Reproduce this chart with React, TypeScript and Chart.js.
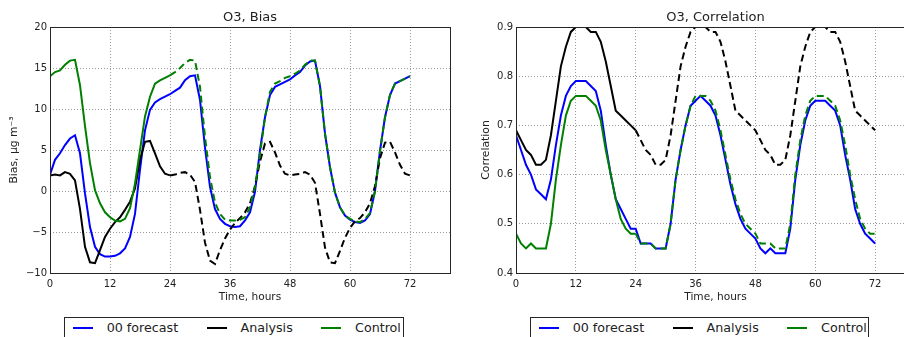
import React, { useEffect, useRef } from 'react';
import { Chart, registerables } from 'chart.js';

Chart.register(...registerables);
Chart.defaults.font.family = "'DejaVu Sans', sans-serif";

// ---------- data ----------
const hours = [
  0, 1, 2, 3, 4, 5, 6, 7, 8, 9, 10, 11, 12, 13, 14, 15, 16, 17, 18, 19, 20, 21, 22, 23,
  24, 25, 26, 27, 28, 29, 30, 31, 32, 33, 34, 35, 36, 37, 38, 39, 40, 41, 42, 43, 44, 45, 46, 47,
  48, 49, 50, 51, 52, 53, 54, 55, 56, 57, 58, 59, 60, 61, 62, 63, 64, 65, 66, 67, 68, 69, 70, 71, 72,
];
const xTicks = [0, 12, 24, 36, 48, 60, 72];
const seriesNames = ['00 forecast', 'Analysis', 'Control'];

const biasForecast = [
  2.0, 3.8, 4.6, 5.6, 6.4, 6.8, 4.6, -0.3, -4.4, -6.8, -7.7, -8.0, -8.0, -7.9, -7.6, -7.0, -5.6, -2.8, 2.6, 7.4, 9.9, 10.8, 11.2, 11.5,
  11.8, 12.2, 12.6, 13.5, 14.0, 14.1, 11.1, 5.3, 0.5, -2.2, -3.4, -4.0, -4.3, -4.4, -4.3, -3.6, -2.6, -0.1, 5.0, 9.0, 11.7, 12.7, 13.0, 13.3,
  13.6, 14.1, 14.5, 15.3, 15.8, 15.9, 12.8, 7.0, 2.9, -0.2, -2.0, -3.0, -3.5, -3.8, -3.9, -3.6, -2.8, 0.0, 4.9, 9.0, 11.7, 13.1, 13.4, 13.7, 14.0,
];
const biasAnalysis = [
  1.9, 2.0, 1.9, 2.3, 2.1, 1.3, -2.2, -6.8, -8.7, -8.8, -7.2, -5.6, -4.6, -3.8, -3.2, -2.3, -1.3, 0.3, 3.8, 6.0, 6.1, 4.6, 3.0, 2.1,
  1.9, 2.0, 2.2, 2.3, 2.0, 1.1, -2.3, -6.3, -8.5, -8.9, -7.2, -5.8, -4.7, -3.9, -3.3, -2.6, -1.5, 0.6, 3.6, 5.8, 6.0, 4.7, 3.1, 2.1,
  1.9, 2.0, 2.1, 2.3, 2.0, 1.0, -2.8, -6.9, -8.7, -8.8, -7.3, -5.7, -4.5, -3.7, -3.3, -2.6, -1.5, 0.6, 4.0, 5.9, 6.0, 4.7, 3.2, 2.1, 1.9,
];
const biasControl = [
  14.0, 14.5, 14.7, 15.4, 15.9, 16.0, 12.9, 7.9, 3.4, 0.1, -1.5, -2.6, -3.2, -3.6, -3.7, -3.4, -2.1, 0.9, 5.0, 9.1, 11.5, 13.1, 13.5, 13.8,
  14.1, 14.5, 15.0, 15.6, 16.0, 15.9, 12.7, 6.6, 1.7, -1.4, -2.8, -3.5, -3.6, -3.6, -3.5, -3.2, -2.0, 0.5, 4.5, 9.0, 12.1, 13.1, 13.4, 13.8,
  14.0, 14.3, 14.7, 15.4, 15.9, 15.9, 12.8, 7.0, 2.9, -0.2, -2.0, -3.0, -3.4, -3.7, -3.8, -3.4, -2.7, 0.0, 4.9, 9.0, 11.7, 13.1, 13.4, 13.7, 14.0,
];

const corrForecast = [
  0.68, 0.65, 0.62, 0.60, 0.57, 0.56, 0.55, 0.59, 0.66, 0.72, 0.76, 0.78, 0.79, 0.79, 0.79, 0.78, 0.77, 0.73, 0.66, 0.60, 0.55, 0.53, 0.51, 0.49,
  0.49, 0.46, 0.46, 0.46, 0.45, 0.45, 0.45, 0.50, 0.59, 0.65, 0.70, 0.74, 0.75, 0.76, 0.75, 0.74, 0.72, 0.68, 0.63, 0.58, 0.54, 0.51, 0.49, 0.48,
  0.47, 0.45, 0.44, 0.45, 0.44, 0.44, 0.44, 0.49, 0.59, 0.66, 0.71, 0.74, 0.75, 0.75, 0.75, 0.74, 0.73, 0.70, 0.64, 0.59, 0.53, 0.50, 0.48, 0.47, 0.46,
];
const corrAnalysis = [
  0.69, 0.67, 0.65, 0.64, 0.62, 0.62, 0.63, 0.68, 0.75, 0.82, 0.86, 0.89, 0.90, 0.90, 0.90, 0.89, 0.89, 0.87, 0.83, 0.78, 0.73, 0.72, 0.71, 0.70,
  0.69, 0.67, 0.65, 0.64, 0.62, 0.62, 0.63, 0.68, 0.75, 0.82, 0.86, 0.89, 0.90, 0.90, 0.90, 0.89, 0.89, 0.87, 0.83, 0.78, 0.73, 0.72, 0.71, 0.70,
  0.69, 0.67, 0.65, 0.64, 0.62, 0.62, 0.63, 0.68, 0.75, 0.82, 0.86, 0.89, 0.90, 0.90, 0.90, 0.89, 0.89, 0.87, 0.83, 0.78, 0.73, 0.72, 0.71, 0.70, 0.69,
];
const corrControl = [
  0.48, 0.46, 0.45, 0.46, 0.45, 0.45, 0.45, 0.50, 0.59, 0.66, 0.72, 0.75, 0.76, 0.76, 0.76, 0.75, 0.74, 0.71, 0.65, 0.60, 0.55, 0.51, 0.49, 0.48,
  0.48, 0.46, 0.46, 0.46, 0.45, 0.45, 0.45, 0.50, 0.59, 0.65, 0.70, 0.74, 0.76, 0.76, 0.76, 0.75, 0.73, 0.69, 0.64, 0.59, 0.55, 0.52, 0.50, 0.49,
  0.48, 0.46, 0.46, 0.46, 0.45, 0.45, 0.45, 0.50, 0.60, 0.67, 0.72, 0.75, 0.76, 0.76, 0.76, 0.75, 0.74, 0.71, 0.66, 0.60, 0.55, 0.51, 0.49, 0.48, 0.48,
];

// ---------- styling ----------
const COLORS = ['#0000ff', '#000000', '#008000'];
const TEXT = '#222222';
const DASH = [7, 4];

const toXY = (vals: number[]) => hours.map((h, i) => ({ x: h, y: vals[i] }));
const dashAfter24 = (ctx: any) => (ctx.p0.parsed.x >= 24 ? DASH : []);

const framePlugin = {
  id: 'frame',
  afterDraw(chart: any) {
    const { ctx, chartArea: a } = chart;
    ctx.save();
    ctx.strokeStyle = '#262626';
    ctx.lineWidth = 1;
    const l = Math.round(a.left), t = Math.round(a.top);
    const r = Math.round(a.right), b = Math.round(a.bottom);
    ctx.strokeRect(l + 0.5, t + 0.5, r - l, b - t);
    ctx.restore();
  },
};

type PanelSpec = {
  title: string;
  yTitle: string;
  yMin: number;
  yMax: number;
  yStep: number;
  yDecimals: number;
  yTitlePad: number;
  padRight: number;
  xHeight: number;
  series: number[][];
};

function buildConfig(p: PanelSpec): any {
  const datasets = p.series.map((vals, i) => ({
    label: seriesNames[i],
    data: toXY(vals),
    borderColor: COLORS[i],
    backgroundColor: COLORS[i],
    borderWidth: 2,
    pointRadius: 0,
    tension: 0,
    fill: false,
    order: 2 - i,
    segment: i === 0 ? undefined : { borderDash: dashAfter24 },
  }));
  return {
    type: 'line',
    data: { datasets },
    plugins: [framePlugin],
    options: {
      responsive: false,
      animation: false,
      events: [],
      layout: { padding: { left: 0, right: p.padRight, top: 0, bottom: 0 } },
      plugins: {
        legend: { display: false },
        tooltip: { enabled: false },
        title: {
          display: true,
          text: p.title,
          fullSize: false,
          color: TEXT,
          font: { size: 13, weight: 'normal' },
          padding: { top: 10.2, bottom: 1.2 },
        },
      },
      scales: {
        x: {
          type: 'linear',
          min: 0,
          max: 80,
          afterFit: (s: any) => { s.height = p.xHeight; },
          afterBuildTicks: (s: any) => { s.ticks = xTicks.map((v) => ({ value: v })); },
          ticks: {
            color: TEXT,
            font: { size: 10 },
            padding: 5,
            maxRotation: 0,
            includeBounds: false,
            callback: (v: number) => String(v),
          },
          grid: { color: '#9a9a9a', lineWidth: 1, drawTicks: false },
          border: { display: false, dash: [1, 2] },
          title: {
            display: true,
            text: 'Time, hours',
            color: TEXT,
            font: { size: 10.6 },
            padding: { top: 0, bottom: 6.2 },
          },
        },
        y: {
          type: 'linear',
          min: p.yMin,
          max: p.yMax,
          afterFit: (s: any) => { s.width = 50; },
          ticks: {
            stepSize: p.yStep,
            color: TEXT,
            font: { size: 10 },
            padding: 3,
            callback: (v: number) => (v < 0 ? '\u2212' + Math.abs(v).toFixed(p.yDecimals) : v.toFixed(p.yDecimals)),
          },
          grid: { color: '#9a9a9a', lineWidth: 1, drawTicks: false },
          border: { display: false, dash: [1, 2] },
          title: {
            display: true,
            text: p.yTitle,
            color: TEXT,
            font: { size: 10.8 },
            padding: { top: p.yTitlePad, bottom: 0 },
          },
        },
      },
    },
  };
}

function ChartPanel({ spec, left, width }: { spec: PanelSpec; left: number; width: number }) {
  const ref = useRef<HTMLCanvasElement | null>(null);
  useEffect(() => {
    if (!ref.current) return;
    const chart = new Chart(ref.current, buildConfig(spec));
    return () => chart.destroy();
  }, [spec]);
  return (
    <canvas
      ref={ref}
      width={width}
      height={310}
      style={{ position: 'absolute', left, top: 0, width, height: 310 }}
    />
  );
}

function Legend({ left, width }: { left: number; width: number }) {
  return (
    <div
      style={{
        position: 'absolute',
        left,
        top: 317,
        width,
        height: 40,
        boxSizing: 'border-box',
        border: '1px solid #262626',
        background: '#fff',
        fontFamily: "'DejaVu Sans', sans-serif",
        fontSize: 12.7,
        color: TEXT,
      }}
    >
      <div style={{ display: 'flex', alignItems: 'center', height: 20, paddingLeft: 8 }}>
        {seriesNames.map((name, i) => (
          <div key={name} style={{ display: 'flex', alignItems: 'center', marginRight: 28.6 }}>
            <div style={{ width: 20, height: 2, background: COLORS[i], marginRight: 13.7 }} />
            <span style={{ lineHeight: '14px', whiteSpace: 'nowrap' }}>{name}</span>
          </div>
        ))}
      </div>
    </div>
  );
}

const biasSpec: PanelSpec = {
  title: 'O3, Bias',
  yTitle: 'Bias, \u03bcg m\u207b\u00b3',
  yMin: -10,
  yMax: 20,
  yStep: 5,
  yDecimals: 0,
  yTitlePad: 7.7,
  padRight: 10,
  xHeight: 37,
  series: [biasForecast, biasAnalysis, biasControl],
};

const corrSpec: PanelSpec = {
  title: 'O3, Correlation',
  yTitle: 'Correlation',
  yMin: 0.4,
  yMax: 0.9,
  yStep: 0.1,
  yDecimals: 1,
  yTitlePad: 13.7,
  padRight: 6,
  xHeight: 37,
  series: [corrForecast, corrAnalysis, corrControl],
};

export default function App() {
  return (
    <div
      style={{
        position: 'fixed',
        left: 0,
        top: 0,
        width: 904,
        height: 337,
        overflow: 'hidden',
        background: '#ffffff',
      }}
    >
      <ChartPanel spec={biasSpec} left={0} width={460} />
      <ChartPanel spec={corrSpec} left={466} width={455} />
      <Legend left={64} width={340} />
      <Legend left={530} width={339} />
    </div>
  );
}
